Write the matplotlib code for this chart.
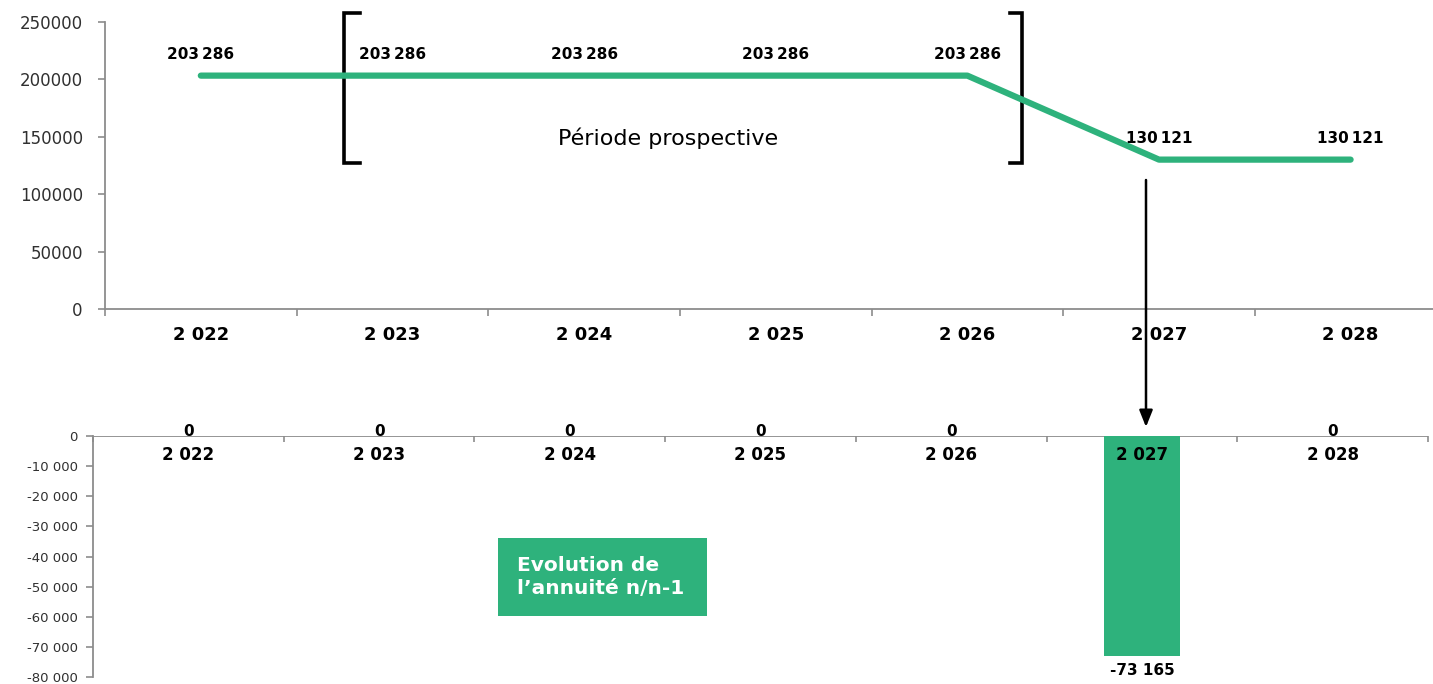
import matplotlib
matplotlib.use("Agg")
import matplotlib.pyplot as plt
from matplotlib.patches import FancyArrowPatch, Rectangle

# Data
years = ["2 022", "2 023", "2 024", "2 025", "2 026", "2 027", "2 028"]
annuite = [203286, 203286, 203286, 203286, 203286, 130121, 130121]
annuite_labels = ["203\u2009286"] * 5 + ["130\u2009121"] * 2
evolution = [0, 0, 0, 0, 0, -73165, 0]
evolution_labels = ["0", "0", "0", "0", "0", "-73 165", "0"]
top_yticks = [0, 50000, 100000, 150000, 200000, 250000]
top_yticklabels = ["0", "50000", "100000", "150000", "200000", "250000"]
bottom_yticks = list(range(0, -80001, -10000))
bottom_yticklabels = ["0"] + [f"-{k} 000" for k in range(10, 81, 10)]

GREEN = "#2EB27C"
GRAY = "#8C8C8C"
W, H = 1433, 684

fig = plt.figure(figsize=(W / 100, H / 100), dpi=100)
plt.rcParams["font.family"] = ["DejaVu Sans"]

x = list(range(len(years)))

# ---------------- Upper panel: annual payment ----------------
ax1 = fig.add_axes([105 / W, 1 - 309 / H, (W - 105) / W, 287 / H])
ax1.plot(x, annuite, color=GREEN, lw=4.5, solid_capstyle="round",
         solid_joinstyle="round", zorder=3)
ax1.set_ylim(0, 250000)
ax1.set_xlim(-0.5, 6.43)
for s in ["top", "right"]:
    ax1.spines[s].set_visible(False)
for s in ["left", "bottom"]:
    ax1.spines[s].set_color(GRAY)
    ax1.spines[s].set_linewidth(1.3)
ax1.set_yticks(top_yticks)
ax1.set_yticklabels(top_yticklabels, fontsize=12, color="#303030")
ax1.tick_params(axis="y", direction="out", length=5, color=GRAY, width=1.2, pad=11)
ax1.set_xticks([i - 0.5 for i in range(7)])
ax1.set_xticklabels([])
ax1.set_xticks(x, minor=True)
ax1.set_xticklabels(years, minor=True, fontsize=13, fontweight="bold")
ax1.tick_params(axis="x", which="major", direction="out", length=5, color=GRAY, width=1.2)
ax1.tick_params(axis="x", which="minor", length=0, pad=12)

for xi, v, lab in zip(x, annuite, annuite_labels):
    ax1.annotate(lab, (xi, v), xytext=(0, 15), textcoords="offset points",
                 ha="center", va="center", fontsize=11, fontweight="bold")

# Brackets around the projection period
bk = dict(color="black", lw=2.6, clip_on=False, solid_joinstyle="miter")
ax1.plot([0.831, 0.747, 0.747, 0.831], [257840, 257840, 127178, 127178], **bk)
ax1.plot([4.223, 4.286, 4.286, 4.223], [257840, 257840, 127178, 127178], **bk)
ax1.text(2.438, 148955, "Période prospective", ha="center", va="center", fontsize=16)

# ---------------- Lower panel: year-on-year change ----------------
ax2 = fig.add_axes([93 / W, 1 - 677 / H, (1428 - 93) / W, 241 / H])
ax2.bar(x, evolution, width=0.4, color=GREEN, zorder=2)
ax2.set_ylim(-80000, 0)
ax2.set_xlim(-0.5, 6.5)
for s in ["top", "right", "bottom"]:
    ax2.spines[s].set_visible(False)
ax2.spines["left"].set_color(GRAY)
ax2.spines["left"].set_linewidth(1.3)
ax2.axhline(0, color=GRAY, lw=1.3, zorder=1)
ax2.set_yticks(bottom_yticks)
ax2.set_yticklabels(bottom_yticklabels, fontsize=9.5, color="#303030")
ax2.tick_params(axis="y", direction="out", length=5, color=GRAY, width=1.2, pad=6)
ax2.xaxis.tick_top()
ax2.set_xticks([i - 0.5 for i in range(8)])
ax2.set_xticklabels([])
ax2.tick_params(axis="x", direction="in", length=4, color=GRAY, width=1.2)

for xi, v, lab, yr in zip(x, evolution, evolution_labels, years):
    if v == 0:
        ax2.annotate(lab, (xi, v), xytext=(0, 3), textcoords="offset points",
                     ha="center", va="center", fontsize=11, fontweight="bold")
    else:
        ax2.annotate(lab, (xi, v), xytext=(0, -10), textcoords="offset points",
                     ha="center", va="center", fontsize=11, fontweight="bold")
    ax2.annotate(yr, (xi, 0), xytext=(0, -14), textcoords="offset points",
                 ha="center", va="center", fontsize=12, fontweight="bold", zorder=4)

# Caption box for the lower panel
fig.add_artist(Rectangle((498 / W, 1 - 616 / H), 209 / W, 78 / H,
                         transform=fig.transFigure, facecolor=GREEN, edgecolor="none"))
fig.text(517 / W, 1 - 577 / H, "Evolution de\nl\u2019annuité n/n-1", color="white",
         fontsize=14.5, fontweight="bold", ha="left", va="center", linespacing=1.3)

# Arrow linking the 2027 drop to its bar
fig.add_artist(FancyArrowPatch((1146 / W, 1 - 180 / H), (1146 / W, 1 - 427 / H),
                               transform=fig.transFigure,
                               arrowstyle="-|>,head_length=10,head_width=4",
                               color="black", lw=1.8, mutation_scale=1.0,
                               shrinkA=0, shrinkB=0))

fig.savefig("out.png", dpi=100)
